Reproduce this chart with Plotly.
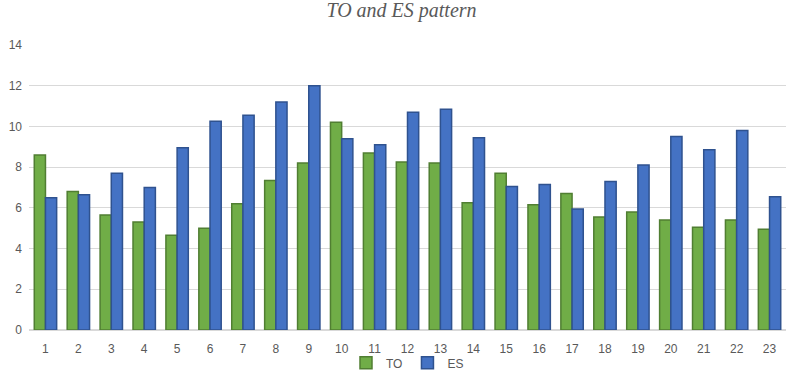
import plotly.graph_objects as go

categories = [str(i) for i in range(1, 24)]
to_values = [8.6, 6.8, 5.65, 5.3, 4.65, 5.0, 6.2, 7.35, 8.2, 10.2, 8.7, 8.25, 8.2, 6.25, 7.7, 6.15, 6.7, 5.55, 5.8, 5.4, 5.05, 5.4, 4.95]
es_values = [6.5, 6.65, 7.7, 7.0, 8.95, 10.25, 10.55, 11.2, 12.0, 9.4, 9.1, 10.7, 10.85, 9.45, 7.05, 7.15, 5.95, 7.3, 8.1, 9.5, 8.85, 9.8, 6.55]
y_ticks = [0, 2, 4, 6, 8, 10, 12, 14]

fig = go.Figure()
fig.add_trace(go.Bar(x=categories, y=to_values, name="TO",
                     marker=dict(color="#70AD47", line=dict(color="#507E32", width=1.5))))
fig.add_trace(go.Bar(x=categories, y=es_values, name="ES",
                     marker=dict(color="#4472C4", line=dict(color="#2F528F", width=1.5))))

fig.update_layout(
    width=803, height=386,
    margin=dict(l=29, r=17, t=45, b=56, autoexpand=False),
    paper_bgcolor="white", plot_bgcolor="white",
    barmode="group", bargap=0.32, bargroupgap=0.0,
    title=dict(text="TO and ES pattern", x=0.5, xanchor="center", y=0.974, yanchor="middle",
               font=dict(family="Liberation Serif", size=20, color="#595959", style="italic")),
    font=dict(family="Liberation Sans", size=12, color="#595959"),
    xaxis=dict(type="category", showgrid=False, showline=False, ticks="outside",
               ticklen=8, tickcolor="rgba(0,0,0,0)",
               tickfont=dict(size=12, color="#595959")),
    yaxis=dict(range=[0, 14], tickvals=y_ticks, showgrid=True, gridcolor="#D9D9D9",
               gridwidth=1, zeroline=True, zerolinecolor="#D9D9D9", showline=False, ticks="",
               ticklabelstandoff=6,
               tickfont=dict(size=12, color="#595959")),
    legend=dict(orientation="h", x=0.5, xanchor="center", yref="container", y=0.06, yanchor="middle",
                bgcolor="rgba(0,0,0,0)", font=dict(size=12, color="#595959"),
                itemwidth=30, traceorder="normal"),
)

fig.write_html("out.html", config={"displayModeBar": False},
               post_script="document.body.style.margin='0';")
